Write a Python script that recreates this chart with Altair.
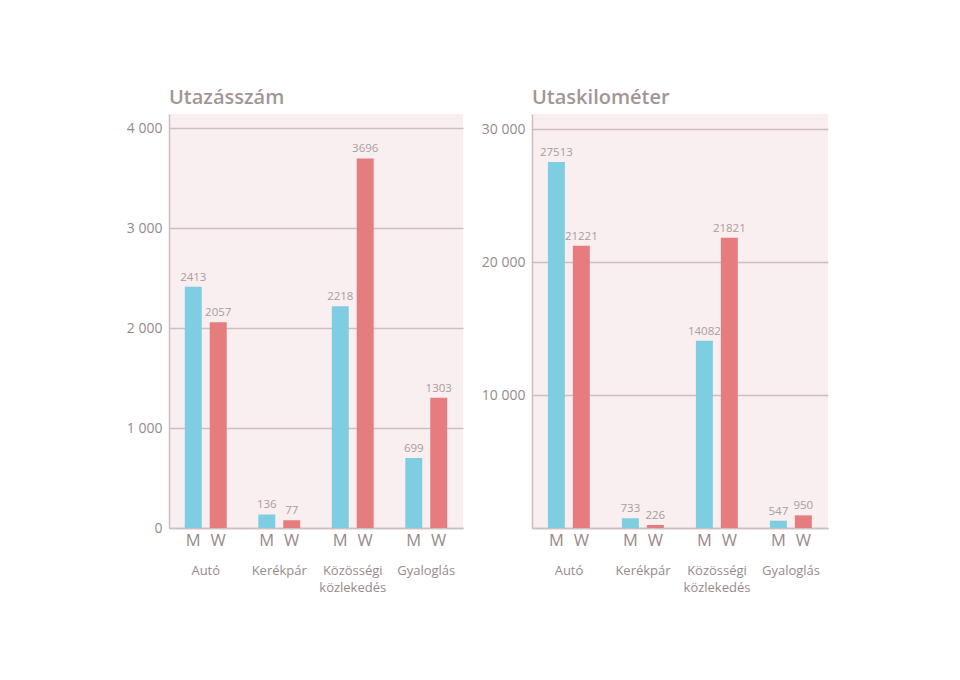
import altair as alt
import pandas as pd

categories = ["Autó", "Kerékpár", "Közösségi\nközlekedés", "Gyaloglás"]
sexes = ["M", "W"]
trips_m = [2413, 136, 2218, 699]
trips_w = [2057, 77, 3696, 1303]
km_m = [27513, 733, 14082, 547]
km_w = [21221, 226, 21821, 950]

FONT = "Open Sans"
BG = "#f9eef0"
GRID = "#cdbfc1"
LABEL = "#978a8a"
VAL = "#aa9d9d"
COLORS = ["#7fcde1", "#e57c7d"]


def make_df(m, w):
    rows = []
    for c, a, b in zip(categories, m, w):
        rows.append({"cat": c, "sex": "M", "value": a})
        rows.append({"cat": c, "sex": "W", "value": b})
    return pd.DataFrame(rows)


def panel(df, title, ymax, step, show_zero, width, height):
    base = alt.Chart(df).encode(
        x=alt.X("cat:N", sort=categories,
                scale=alt.Scale(paddingInner=0.43, paddingOuter=0.215),
                axis=alt.Axis(title=None, ticks=False, labelAngle=0,
                              labelPadding=36, labelFontSize=13,
                              labelColor=LABEL, labelFont=FONT,
                              domainColor=GRID, domainWidth=1.5,
                              labelExpr="split(datum.label, '\\n')",
                              labelLineHeight=17)),
        xOffset=alt.XOffset("sex:N", sort=sexes,
                            scale=alt.Scale(paddingInner=0.32, paddingOuter=0)),
    )
    zero_expr = "" if show_zero else "datum.value == 0 ? '' : "
    bars = base.mark_bar().encode(
        y=alt.Y("value:Q",
                scale=alt.Scale(domain=[0, ymax], nice=False),
                axis=alt.Axis(title=None, ticks=False, values=list(range(0, ymax, step)),
                              labelFontSize=14, labelColor=LABEL, labelFont=FONT,
                              labelPadding=7, gridColor=GRID, gridWidth=1.3,
                              domainColor=GRID, domainWidth=1.5,
                              labelExpr=zero_expr + "replace(format(datum.value, ','), ',', ' ')")),
        color=alt.Color("sex:N", scale=alt.Scale(domain=sexes, range=COLORS), legend=None),
    )
    vals = base.mark_text(dy=-9, fontSize=11.5, font=FONT, color=VAL).encode(
        y=alt.Y("value:Q"),
        text=alt.Text("value:Q", format="d"),
    )
    sx = base.mark_text(fontSize=16.5, font=FONT, color=LABEL, baseline="middle").encode(
        y=alt.value(height + 13),
        text="sex:N",
    )
    return alt.layer(bars, vals, sx).properties(
        width=width, height=height,
        title=alt.TitleParams(title, anchor="start", frame="group", fontSize=20, font=FONT,
                              fontWeight=600, color="#a39595", offset=6),
    )


left = panel(make_df(trips_m, trips_w), "Utazásszám", 4140, 1000, True, 294, 414)
right = panel(make_df(km_m, km_w), "Utaskilométer", 31130, 10000, False, 296, 414)

chart = alt.hconcat(left, right, spacing=18).properties(
    padding={"left": 118, "top": 80, "right": 5, "bottom": 5},
    background="white",
).configure_view(stroke=None, fill=BG)

chart.save("out.html", embed_options={"renderer": "svg", "actions": False})
